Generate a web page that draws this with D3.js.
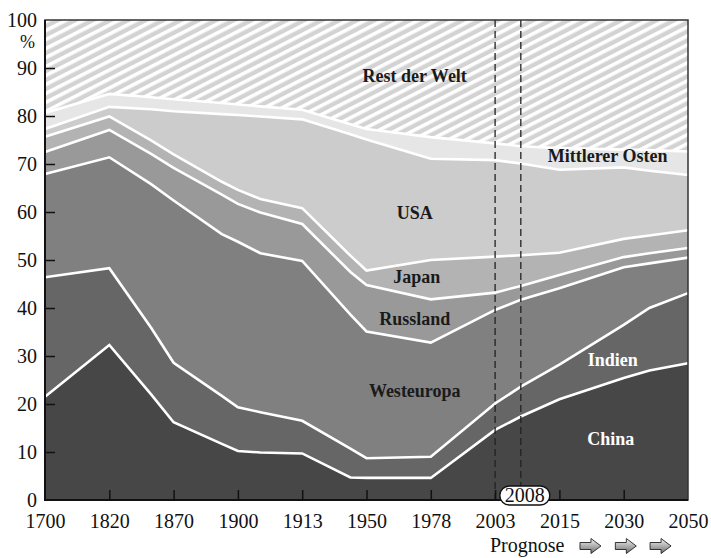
<!DOCTYPE html>
<html>
<head>
<meta charset="utf-8">
<script src="https://cdn.jsdelivr.net/npm/d3@7/dist/d3.min.js"></script>
<style>
body { margin: 0; background: #fff; }
svg { display: block; }
text { font-family: 'Liberation Serif', 'DejaVu Serif', serif; }
</style>
</head>
<body>
<script>
// Anteile am Welt-BIP in %
var years = ["1700", "1820", "1870", "1900", "1913", "1950", "1978", "2003", "2015", "2030", "2050"];
// x-Position der Stützpunkte (Index auf der Jahresachse, auch Zwischenpunkte)
var pos = [0, 1, 1.65, 2, 2.75, 3, 3.35, 4, 4.75, 5, 6, 7, 7.4, 8, 9, 9.4, 10];

var china      = [21.5, 32.3, 22.0, 16.2, 11.7, 10.2, 9.9, 9.7, 4.7, 4.6, 4.6, 14.6, 17.4, 21.0, 25.4, 27.0, 28.5];
var indien     = [24.9, 16.0, 13.9, 12.4, 10.0, 9.1, 8.4, 6.8, 6.0, 4.1, 4.4, 5.5, 6.2, 7.2, 11.1, 13.0, 14.6];
var westeuropa = [21.5, 23.1, 29.9, 33.8, 33.7, 34.5, 33.1, 33.3, 27.9, 26.4, 23.8, 19.5, 18.1, 15.9, 12.0, 9.3, 7.4];
var russland   = [4.6, 5.7, 6.3, 6.8, 8.2, 7.9, 8.5, 7.7, 8.9, 9.7, 9.0, 3.6, 2.9, 2.8, 2.1, 2.1, 2.0];
var japan      = [3.2, 2.8, 2.8, 2.8, 2.7, 2.9, 2.8, 3.3, 3.4, 3.0, 8.2, 7.5, 6.4, 4.6, 3.8, 3.7, 3.7];
var usa        = [1.6, 2.0, 6.5, 9.0, 14.1, 15.6, 17.2, 18.5, 25.3, 27.3, 21.1, 20.1, 19.1, 17.3, 14.9, 13.5, 11.5];
var mittelost  = [3.3, 2.7, 2.5, 2.5, 2.3, 2.2, 2.1, 2.0, 2.1, 2.2, 4.5, 3.5, 3.6, 4.5, 3.7, 4.3, 4.9];
var rest       = [19.4, 15.4, 16.1, 16.5, 17.3, 17.6, 18.0, 18.7, 21.7, 22.7, 24.4, 25.7, 26.3, 26.7, 27.0, 27.1, 27.4];

var regions = ["China", "Indien", "Westeuropa", "Russland", "Japan", "USA", "Mittlerer Osten", "Rest der Welt"];
var yTicks = [0, 10, 20, 30, 40, 50, 60, 70, 80, 90, 100];
var forecastMarks = [7, 7.4];   // 2003 und 2008

var series = [china, indien, westeuropa, russland, japan, usa, mittelost, rest];
var rows = pos.map(function(p, i) {
	var r = {pos: p};
	regions.forEach(function(k, j) { r[k] = series[j][i]; });
	return r;
});

var width = 711, height = 558;
var margin = {top: 20, right: 23, bottom: 58, left: 45};
var plotW = width - margin.left - margin.right;
var plotH = height - margin.top - margin.bottom;
var serif = "'Liberation Serif', 'DejaVu Serif', serif";

var svg = d3.select("body").append("svg")
	.attr("width", width)
	.attr("height", height);

var fills = {
	"China": "#474747",
	"Indien": "#666666",
	"Westeuropa": "#808080",
	"Russland": "#999999",
	"Japan": "#b3b3b3",
	"USA": "#cccccc",
	"Mittlerer Osten": "#e6e6e6",
	"Rest der Welt": "url(#hatch)"
};

// Schraffur fuer "Rest der Welt"
var pat = svg.append("defs").append("pattern")
	.attr("id", "hatch")
	.attr("patternUnits", "userSpaceOnUse")
	.attr("width", 8)
	.attr("height", 8)
	.attr("patternTransform", "rotate(-27)");
pat.append("rect").attr("width", 8).attr("height", 8).attr("fill", "#d3d3d3");
pat.append("rect").attr("width", 8).attr("height", 3.6).attr("fill", "#ffffff");

var grad = svg.select("defs").append("linearGradient")
	.attr("id", "arrowGrad")
	.attr("x1", 0).attr("y1", 0).attr("x2", 0).attr("y2", 1);
grad.append("stop").attr("offset", "0%").attr("stop-color", "#f2f2f2");
grad.append("stop").attr("offset", "100%").attr("stop-color", "#6e6e6e");

var g = svg.append("g").attr("transform", "translate(" + margin.left + "," + margin.top + ")");

var x = d3.scaleLinear().domain([0, 10]).range([0, plotW]);
var y = d3.scaleLinear().domain([0, 100]).range([plotH, 0]);

var stack = d3.stack().keys(regions);
var layers = stack(rows);

var area = d3.area()
	.x(function(d) { return x(d.data.pos); })
	.y0(function(d) { return y(d[0]); })
	.y1(function(d) { return y(d[1]); });

g.selectAll(".layer")
	.data(layers)
	.enter().append("path")
	.attr("class", "layer")
	.attr("d", area)
	.attr("fill", function(d) { return fills[d.key]; });

// weisse Trennlinien
var topLine = d3.line()
	.x(function(d) { return x(d.data.pos); })
	.y(function(d) { return y(d[1]); });

g.selectAll(".sep")
	.data(layers.slice(0, layers.length - 1))
	.enter().append("path")
	.attr("class", "sep")
	.attr("d", topLine)
	.attr("fill", "none")
	.attr("stroke", "#fff")
	.attr("stroke-width", 2.6)
	.attr("stroke-linejoin", "miter");

// gestrichelte Linien 2003 / 2008
g.selectAll(".mark")
	.data(forecastMarks)
	.enter().append("line")
	.attr("class", "mark")
	.attr("x1", function(d) { return x(d); })
	.attr("x2", function(d) { return x(d); })
	.attr("y1", 0)
	.attr("y2", plotH)
	.attr("stroke", "#222")
	.attr("stroke-width", 1.3)
	.attr("stroke-dasharray", "7,4");

// Rahmen
g.append("rect")
	.attr("x", 0).attr("y", 0)
	.attr("width", plotW).attr("height", plotH)
	.attr("fill", "none")
	.attr("stroke", "#333")
	.attr("stroke-width", 1.5);

// y-Achse
var yAxis = g.append("g")
	.call(d3.axisLeft(y).tickValues(yTicks).tickSize(-10).tickPadding(8))
	.attr("font-family", serif)
	.attr("font-size", 20);
yAxis.select(".domain").remove();
yAxis.selectAll(".tick line")
	.attr("stroke", "#111")
	.attr("stroke-width", 1.5)
	.filter(function(d) { return d == 0 || d == 100; }).remove();
yAxis.selectAll(".tick text")
	.style("font-family", serif)
	.style("font-size", "20px")
	.attr("fill", "#111");

g.append("text")
	.attr("x", -10)
	.attr("y", y(95.4))
	.attr("dy", "0.32em")
	.attr("text-anchor", "end")
	.style("font-family", serif)
	.style("font-size", "18px")
	.attr("fill", "#111")
	.text("%");

// x-Achse
var xAxis = g.append("g")
	.attr("transform", "translate(0," + plotH + ")")
	.call(d3.axisBottom(x).tickValues(d3.range(years.length))
		.tickFormat(function(i) { return years[i]; })
		.tickSize(-10).tickPadding(14))
	.attr("font-family", serif)
	.attr("font-size", 20);
xAxis.select(".domain").remove();
xAxis.selectAll(".tick line")
	.attr("stroke", "#111")
	.attr("stroke-width", 1.5)
	.filter(function(d) { return d == 0 || d == 10; }).remove();
xAxis.selectAll(".tick text")
	.style("font-family", serif)
	.style("font-size", "20px")
	.attr("fill", "#111");

// schwarze Achsenlinien
g.append("path")
	.attr("d", "M0,0V" + plotH + "H" + plotW)
	.attr("fill", "none")
	.attr("stroke", "#111")
	.attr("stroke-width", 2);

// Beschriftung der Flaechen
var labels = [
	{text: "Rest der Welt", p: 5.75, v: 87, c: "#1a1a1a"},
	{text: "Mittlerer Osten", p: 8.75, v: 70.5, c: "#1a1a1a"},
	{text: "USA", p: 5.75, v: 58.5, c: "#1a1a1a"},
	{text: "Japan", p: 5.78, v: 45.3, c: "#1a1a1a"},
	{text: "Russland", p: 5.75, v: 36.5, c: "#1a1a1a"},
	{text: "Westeuropa", p: 5.75, v: 21.5, c: "#1a1a1a"},
	{text: "Indien", p: 8.83, v: 28, c: "#ffffff"},
	{text: "China", p: 8.8, v: 11.5, c: "#ffffff"}
];
g.selectAll(".lbl")
	.data(labels)
	.enter().append("text")
	.attr("class", "lbl")
	.attr("x", function(d) { return x(d.p); })
	.attr("y", function(d) { return y(d.v); })
	.attr("text-anchor", "middle")
	.style("font-family", serif)
	.style("font-weight", "bold")
	.style("font-size", "18px")
	.attr("fill", function(d) { return d.c; })
	.text(function(d) { return d.text; });

// 2008-Kennzeichnung
var bx = x(7.4) + 4;
g.append("rect")
	.attr("x", bx - 25).attr("y", plotH - 14)
	.attr("width", 50).attr("height", 19)
	.attr("rx", 9.5)
	.attr("fill", "#fff")
	.attr("stroke", "#111")
	.attr("stroke-width", 1.4);
g.append("text")
	.attr("x", bx).attr("y", plotH + 2)
	.attr("text-anchor", "middle")
	.style("font-family", serif)
	.style("font-size", "20px")
	.attr("fill", "#111")
	.text("2008");

// Prognose mit Pfeilen
g.append("text")
	.attr("x", x(6.92))
	.attr("y", plotH + 52)
	.style("font-family", serif)
	.style("font-size", "20px")
	.attr("fill", "#111")
	.text("Prognose");

var arrowPath = "M0,-3.5H11V-7.5L21,0L11,7.5V3.5H0Z";
[x(8.32), x(8.87), x(9.41)].forEach(function(ax) {
	g.append("path")
		.attr("d", arrowPath)
		.attr("transform", "translate(" + ax + "," + (plotH + 46) + ")")
		.attr("fill", "url(#arrowGrad)")
		.attr("stroke", "#222")
		.attr("stroke-width", 0.9);
});
</script>
</body>
</html>
